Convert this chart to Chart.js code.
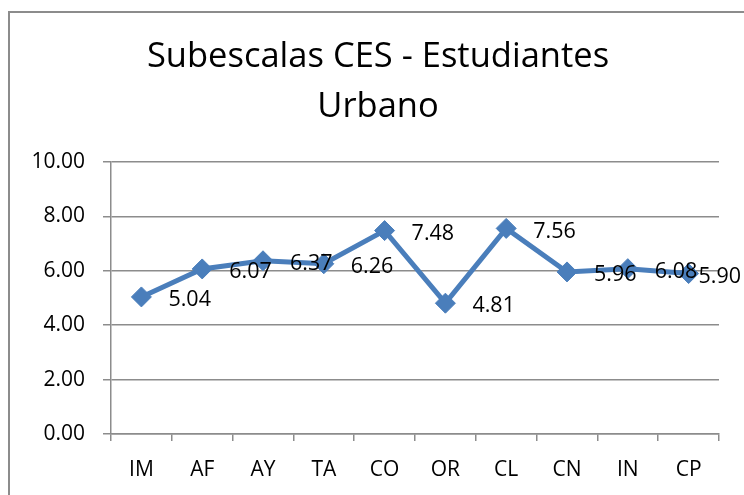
<!DOCTYPE html>
<html>
<head>
<meta charset="utf-8">
<script src="https://cdn.jsdelivr.net/npm/chart.js@4.4.0/dist/chart.umd.min.js"></script>
<style>
  html, body { margin: 0; padding: 0; background: #fff; overflow: hidden; }
  #wrap { position: relative; width: 744px; height: 495px; }
  #frame { position: absolute; left: 8px; top: 11px; width: 800px; height: 600px;
           border: 2px solid #8c8c8c; pointer-events: none; }
</style>
</head>
<body>
<div id="wrap">
  <canvas id="cesChart" width="744" height="495"></canvas>
  <div id="frame"></div>
</div>
<script>
  const categories = ['IM', 'AF', 'AY', 'TA', 'CO', 'OR', 'CL', 'CN', 'IN', 'CP'];
  const urbano = [5.04, 6.07, 6.37, 6.26, 7.48, 4.81, 7.56, 5.96, 6.08, 5.90];
  const yTicks = [0, 2, 4, 6, 8, 10];

  const FONT = 'Open Sans';
  const GRID = '#8c8c8c';

  // values written to the right of each marker, like Excel "right" labels;
  // a label that would run off the canvas is pushed back inside
  const pointLabels = {
    id: 'pointLabels',
    afterDatasetsDraw(chart) {
      const ctx = chart.ctx;
      const meta = chart.getDatasetMeta(0);
      ctx.save();
      ctx.font = '21.5px "' + FONT + '"';
      ctx.fillStyle = '#000';
      ctx.textAlign = 'left';
      ctx.textBaseline = 'middle';
      meta.data.forEach(function (pt, i) {
        const txt = urbano[i].toFixed(2);
        const w = ctx.measureText(txt).width;
        const x = Math.min(pt.x + 27, chart.width - 3 - w);
        ctx.fillText(txt, x, pt.y + 3);
      });
      ctx.restore();
    }
  };

  // the title in the original sits a bit right of the canvas centre
  const titleShift = {
    id: 'titleShift',
    afterLayout(chart) {
      chart.titleBlock.left += 37;
    }
  };

  const ctx = document.getElementById('cesChart').getContext('2d');
  const cesChart = new Chart(ctx, {
    type: 'line',
    data: {
      labels: categories,
      datasets: [{
        label: 'Urbano',
        data: urbano,
        borderColor: '#4a7ebb',
        backgroundColor: '#4a7ebb',
        borderWidth: 5,
        pointStyle: 'rectRot',
        pointRadius: 10,
        pointHoverRadius: 10,
        pointBorderWidth: 1,
        tension: 0
      }]
    },
    options: {
      responsive: false,
      animation: false,
      layout: { padding: { left: 0, right: 25, top: 0, bottom: 0 } },
      plugins: {
        legend: { display: false },
        tooltip: { enabled: false },
        title: {
          display: true,
          text: ['Subescalas CES - Estudiantes', 'Urbano'],
          color: '#000',
          font: { family: FONT, size: 34.5, weight: 'normal', lineHeight: 1.45 },
          padding: { top: 32, bottom: 30 }
        }
      },
      scales: {
        x: {
          offset: true,
          grid: { offset: true, drawOnChartArea: false, drawTicks: true, tickLength: 7, color: GRID, lineWidth: 1.5 },
          border: { display: true, color: GRID, width: 1.5 },
          ticks: { color: '#000', padding: 16, font: { family: FONT, size: 21 } },
          afterFit: function (scale) { scale.height = 61; }
        },
        y: {
          min: 0,
          max: 10,
          afterBuildTicks: function (scale) {
            scale.ticks = yTicks.map(function (v) { return { value: v }; });
          },
          grid: { color: GRID, lineWidth: 1.5, tickLength: 8 },
          border: { display: true, color: GRID, width: 1.5 },
          ticks: {
            color: '#000',
            padding: 18,
            font: { family: FONT, size: 21 },
            callback: function (v) { return Number(v).toFixed(2); }
          },
          afterFit: function (scale) { scale.width = 111; }
        }
      }
    },
    plugins: [pointLabels, titleShift]
  });
</script>
</body>
</html>
